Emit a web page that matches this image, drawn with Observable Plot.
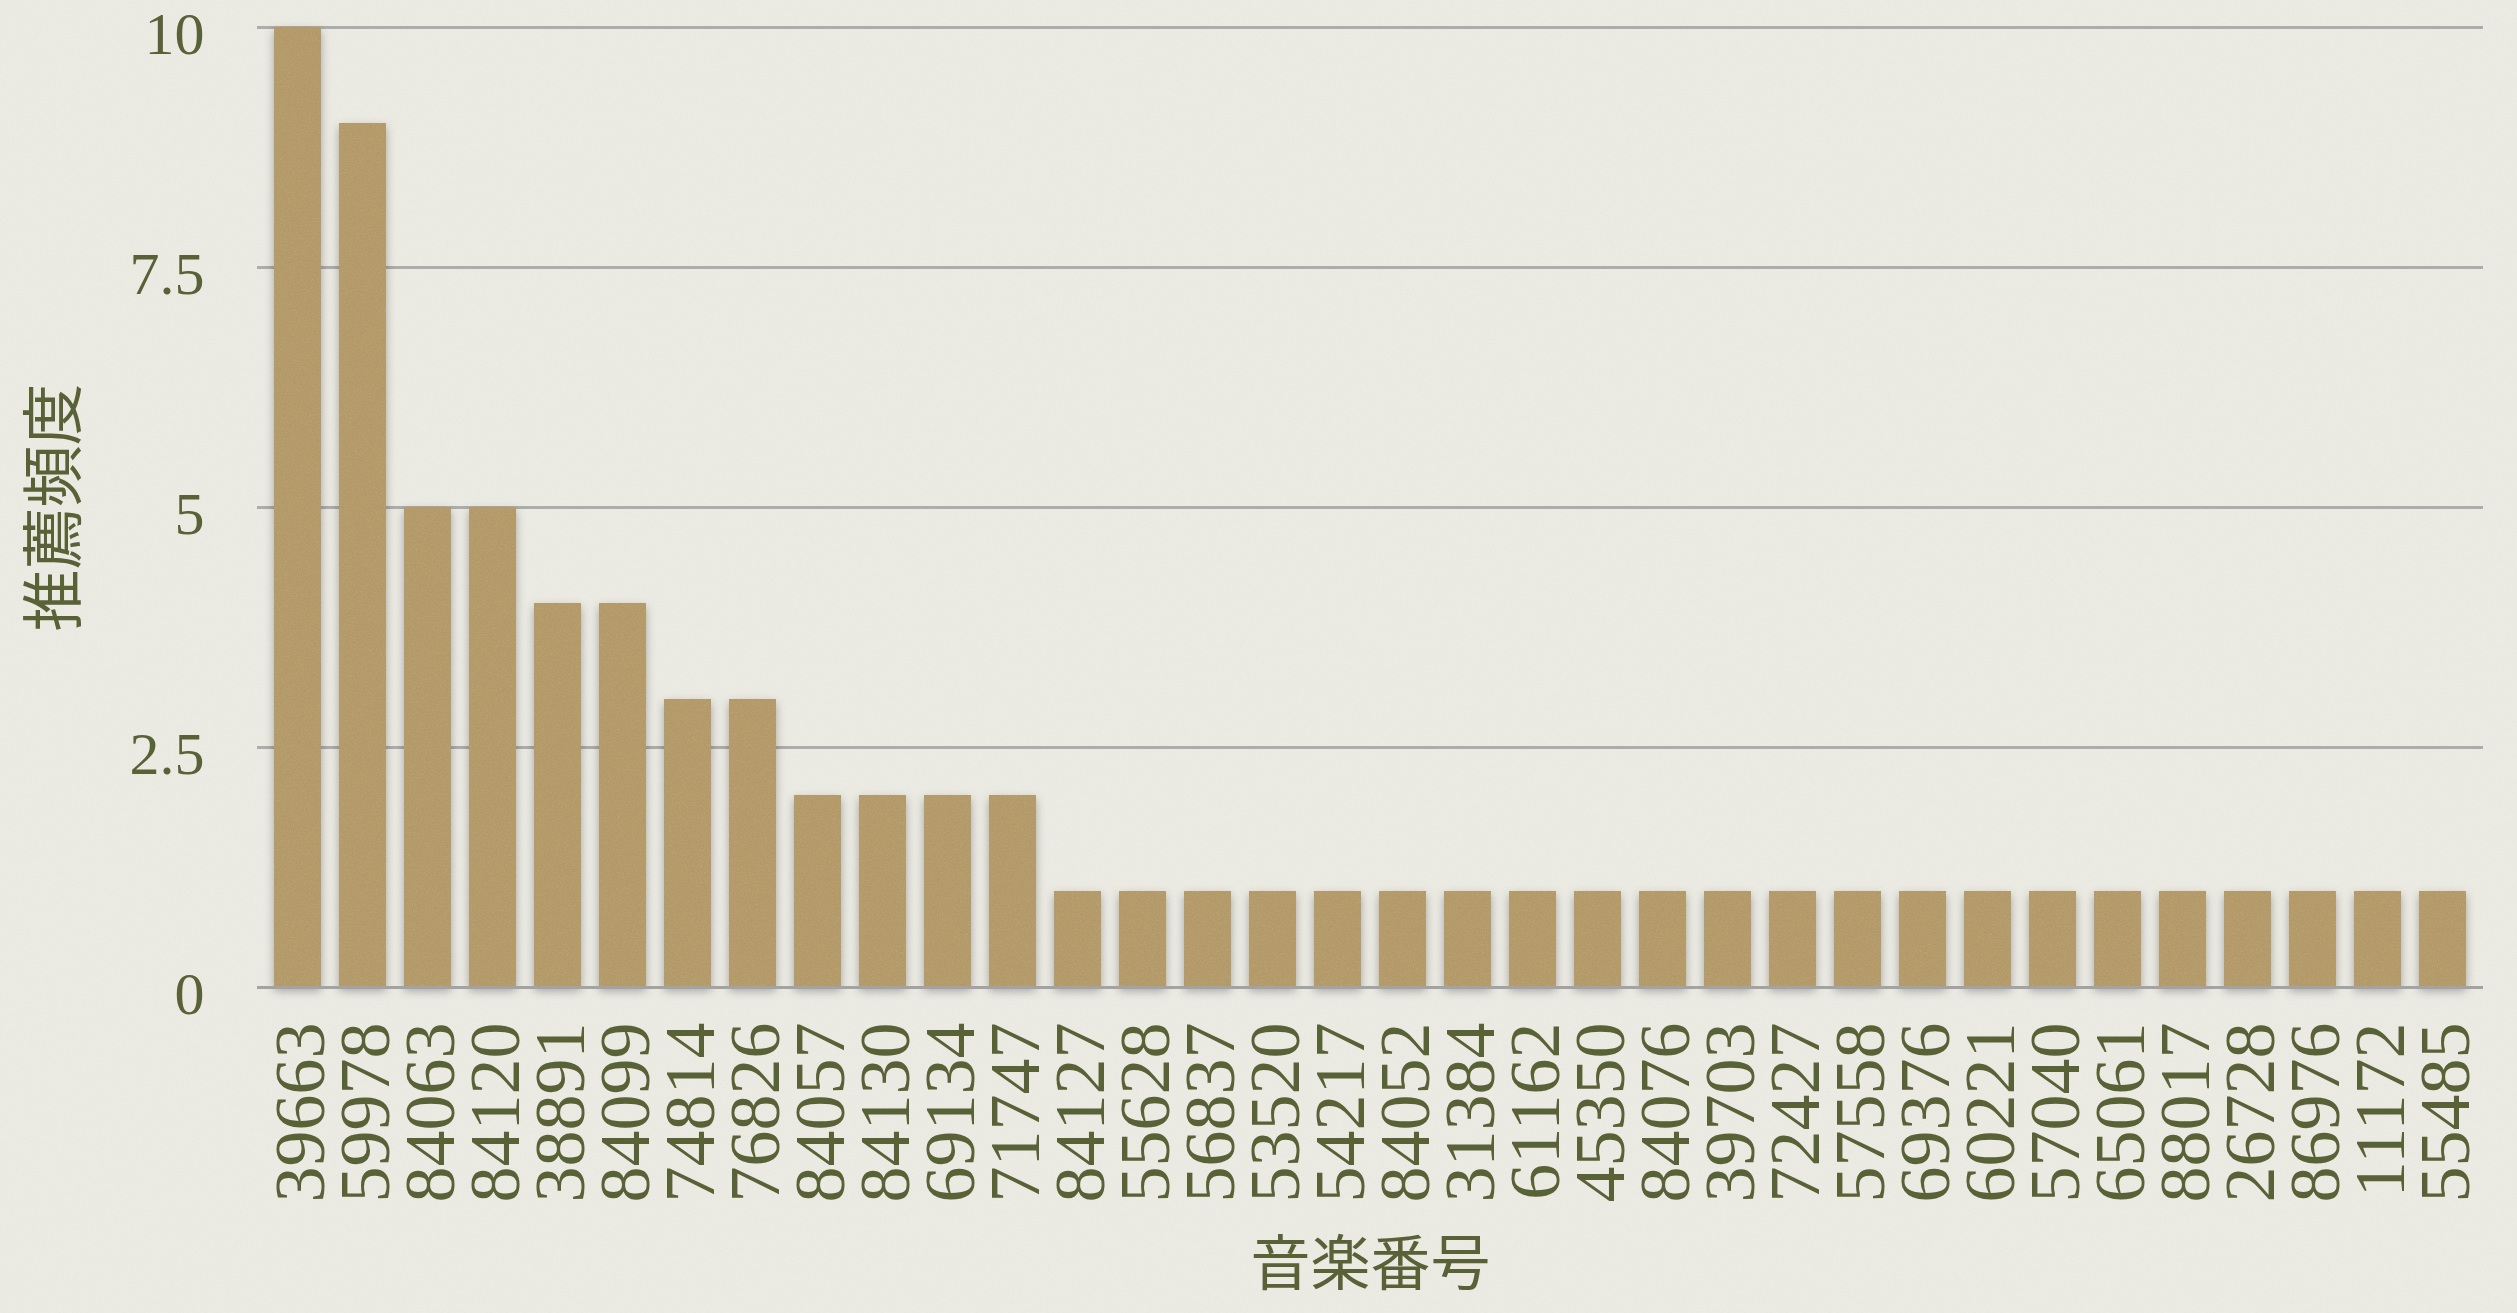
<!DOCTYPE html>
<html>
<head>
<meta charset="utf-8">
<script src="https://cdn.jsdelivr.net/npm/d3@7"></script>
<script src="https://cdn.jsdelivr.net/npm/@observablehq/plot@0.6"></script>
<style>
  html, body { margin: 0; padding: 0; background: #ebeae3; }
  #chart svg { display: block; }
</style>
</head>
<body>
<div id="chart"></div>
<script>
// Data
const trackIds = ["39663","59978","84063","84120","38891","84099","74814","76826","84057","84130","69134","71747",
  "84127","55628","56837","53520","54217","84052","31384","61162","45350","84076","39703","72427","57558",
  "69376","60221","57040","65061","88017","26728","86976","11172","55485"];
const counts = [10,9,5,5,4,4,3,3,2,2,2,2,
  1,1,1,1,1,1,1,1,1,1,1,1,1,
  1,1,1,1,1,1,1,1,1];
const yTicks = [0, 2.5, 5, 7.5, 10];
const xTitle = "音楽番号";
const yTitle = "推薦頻度";

const data = trackIds.map((id, i) => ({id, count: counts[i]}));
const textColor = "#596137";
const cjk = "'Noto Sans CJK JP', sans-serif";

const chart = Plot.plot({
  width: 2517,
  height: 1313,
  marginLeft: 257,
  marginRight: 34,
  marginTop: 27,
  marginBottom: 326,
  style: {background: "transparent", fontFamily: "'Liberation Serif', serif", color: textColor},
  x: {domain: trackIds, paddingInner: 0.27, paddingOuter: 0.1, axis: null},
  y: {domain: [0, 10], axis: null},
  marks: [
    Plot.gridY(yTicks, {stroke: "#adadad", strokeOpacity: 1, strokeWidth: 3}),
    Plot.barY(data, {x: "id", y: "count", fill: "#b49866"}),
    Plot.ruleY([0], {stroke: "#a3a3a3", strokeWidth: 3}),
    Plot.axisY(yTicks, {tickSize: 0, tickPadding: 53, fontSize: 60, dy: 7, tickFormat: d => String(d), fill: textColor, label: null}),
    Plot.axisX({tickSize: 0, tickRotate: -90, tickPadding: 35, fontSize: 72, dx: 3, fill: textColor, label: null}),
    Plot.text([xTitle], {frameAnchor: "bottom", lineAnchor: "middle", textAnchor: "middle", dy: 278, fontSize: 60, fill: textColor, fontFamily: cjk}),
    Plot.text([yTitle], {frameAnchor: "left", lineAnchor: "middle", textAnchor: "middle", dx: -201, rotate: -90, fontSize: 62, fill: textColor, fontFamily: cjk})
  ]
});

// Bar texture + drop shadow
const ns = "http://www.w3.org/2000/svg";
const defs = document.createElementNS(ns, "defs");
defs.innerHTML = `
<filter id="barfx" x="-5%" y="-5%" width="110%" height="112%">
  <feTurbulence type="fractalNoise" baseFrequency="0.75" numOctaves="3" seed="7" result="noise"/>
  <feColorMatrix in="noise" type="matrix" values="0 0 0 0 0.48  0 0 0 0 0.38  0 0 0 0 0.20  2.2 0 0 0 -0.9" result="speck"/>
  <feComposite in="speck" in2="SourceAlpha" operator="in" result="speckIn"/>
  <feGaussianBlur in="SourceAlpha" stdDeviation="5" result="blur"/>
  <feOffset in="blur" dx="0" dy="4" result="off"/>
  <feFlood flood-color="#000" flood-opacity="0.3"/>
  <feComposite in2="off" operator="in" result="shadow"/>
  <feMerge><feMergeNode in="shadow"/><feMergeNode in="SourceGraphic"/><feMergeNode in="speckIn"/></feMerge>
</filter>
<filter id="paper" x="0" y="0" width="100%" height="100%">
  <feTurbulence type="fractalNoise" baseFrequency="0.6" numOctaves="3" seed="2" result="n"/>
  <feColorMatrix in="n" type="matrix" values="0 0 0 0 0.55  0 0 0 0 0.55  0 0 0 0 0.5  0.6 0 0 0 -0.28"/>
</filter>`;
chart.insertBefore(defs, chart.firstChild);
const bg = document.createElementNS(ns, "rect");
bg.setAttribute("width", 2517); bg.setAttribute("height", 1313);
bg.setAttribute("fill", "#ebeae3");
chart.insertBefore(bg, defs.nextSibling);
const bgn = document.createElementNS(ns, "rect");
bgn.setAttribute("width", 2517); bgn.setAttribute("height", 1313);
bgn.setAttribute("filter", "url(#paper)"); bgn.setAttribute("opacity", "0.35");
chart.insertBefore(bgn, bg.nextSibling);
const barG = chart.querySelector('g[aria-label="bar"]');
if (barG) barG.setAttribute("filter", "url(#barfx)");

document.getElementById("chart").appendChild(chart);
</script>
</body>
</html>
